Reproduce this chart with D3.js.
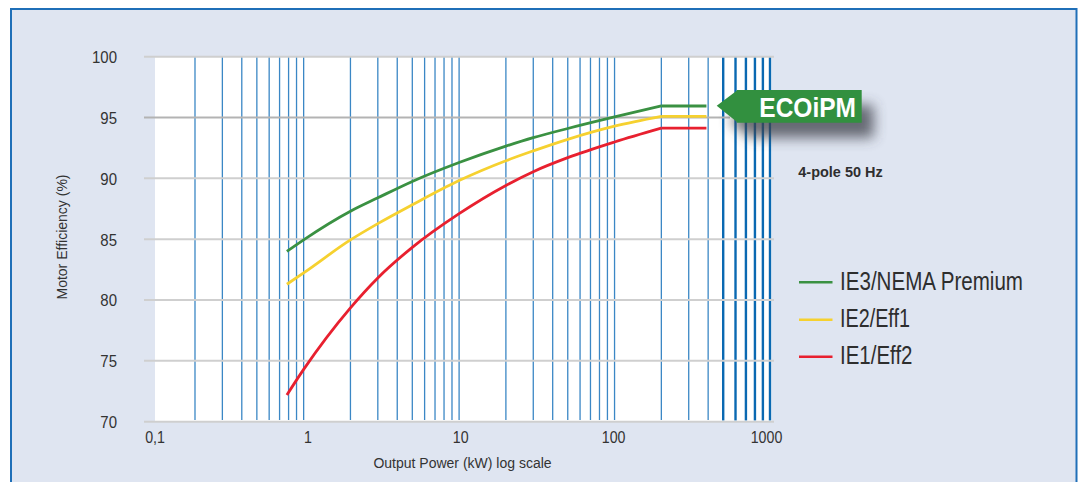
<!DOCTYPE html>
<html>
<head>
<meta charset="utf-8">
<script src="https://cdn.jsdelivr.net/npm/d3@7"></script>
<style>
  html, body { margin: 0; padding: 0; background: #ffffff; }
  svg { display: block; }
  text { font-family: "Liberation Sans", Arial, sans-serif; }
</style>
</head>
<body>
<div id="chart"></div>
<script>
// ---------------- data ----------------
const powerKW   = [0.78, 1,     2,     3,     5,     10,    20,    30,    50,    100,   200,   390];
const ie3Values = [84.0, 84.95, 87.3,  88.4,  89.75, 91.3,  92.65, 93.35, 94.1,  95.05, 95.95, 95.95];
const ie2Values = [81.3, 82.23, 84.94, 86.28, 87.83, 89.82, 91.45, 92.26, 93.21, 94.29, 95.1,  95.1];
const ie1Values = [72.2, 74.3,  79.36, 81.82, 84.33, 87.1,  89.42, 90.55, 91.7,  92.99, 94.13, 94.13];

const seriesNames = ["IE3/NEMA Premium", "IE2/Eff1", "IE1/Eff2"];
const seriesColors = ["#3a9142", "#f6d12f", "#e8202f"];

const xTickValues = [0.1, 1, 10, 100, 1000];
const xTickLabels = ["0,1", "1", "10", "100", "1000"];
const yTickValues = [70, 75, 80, 85, 90, 95, 100];
const minorGridValues = [0.2,0.3,0.4,0.5,0.6,0.7,0.8,0.9,
                         1,2,3,4,5,6,7,8,9,
                         10,20,30,40,50,60,70,80,90,
                         100,200,300,400];
const majorGridValues = [500,600,700,800,900,1000];

const yTitle = "Motor Efficiency (%)";
const xTitle = "Output Power (kW) log scale";
const badgeText = "ECOiPM";
const noteText = "4-pole 50 Hz";

// ---------------- layout ----------------
const W = 1081, H = 482;
const svg = d3.select("#chart").append("svg").attr("width", W).attr("height", H);

const x = d3.scaleLog().domain([0.1, 1000]).range([148.2, 770]);
const xLabelPos = d3.scaleLog().domain([0.1, 1000]).range([154.5, 766]);
const y = d3.scaleLinear().domain([70, 100]).range([421.7, 56.7]);

// frame
svg.append("rect").attr("x", 11).attr("y", 9).attr("width", 1065.5).attr("height", 500)
  .attr("fill", "#dfe5f1").attr("stroke", "#1f6fb8").attr("stroke-width", 2);

// white plot area
svg.append("rect").attr("x", 155).attr("y", y(100)).attr("width", 771.7 - 155).attr("height", y(70) - y(100))
  .attr("fill", "#ffffff");

// vertical grid lines
svg.append("g").selectAll("line").data(minorGridValues).join("line")
  .attr("x1", d => x(d)).attr("x2", d => x(d))
  .attr("y1", y(100)).attr("y2", 420)
  .attr("stroke", "#3b87c5").attr("stroke-width", 1.3);
svg.append("g").selectAll("line").data(majorGridValues).join("line")
  .attr("x1", d => x(d)).attr("x2", d => x(d))
  .attr("y1", y(100)).attr("y2", 420.5)
  .attr("stroke", "#0a69b2").attr("stroke-width", 2.4);

// horizontal grid lines
svg.append("g").selectAll("line").data(yTickValues).join("line")
  .attr("x1", 144).attr("x2", d => d === 95 ? 730 : 774)
  .attr("y1", d => y(d)).attr("y2", d => y(d))
  .attr("stroke", d => d === 95 ? "#b3b3b3" : "#cfcfcf").attr("stroke-width", 2);

// y axis labels
const yAxis = d3.axisLeft(y).tickValues(yTickValues).tickSize(0).tickPadding(0).tickFormat(d3.format("d"));
const yG = svg.append("g").attr("transform", "translate(117,0)").call(yAxis);
yG.select(".domain").remove();
yG.selectAll("text").attr("font-size", 17).attr("fill", "#333").attr("dy", "0.35em")
  .attr("font-family", '"Liberation Sans", Arial, sans-serif')
  .each(function() { const n = this.getComputedTextLength(); d3.select(this).attr("textLength", n * 0.88).attr("lengthAdjust", "spacingAndGlyphs"); });

// x axis labels
const xAxis = d3.axisBottom(xLabelPos).tickValues(xTickValues).tickSize(0).tickPadding(0)
  .tickFormat((d, i) => xTickLabels[i]);
const xG = svg.append("g").attr("transform", "translate(0,443.3)").call(xAxis);
xG.select(".domain").remove();
xG.selectAll("text").attr("font-size", 16.5).attr("fill", "#333").attr("dy", 0).attr("y", 0)
  .attr("font-family", '"Liberation Sans", Arial, sans-serif')
  .each(function() { const n = this.getComputedTextLength(); d3.select(this).attr("textLength", n * 0.86).attr("lengthAdjust", "spacingAndGlyphs"); });

// axis titles
svg.append("text").attr("transform", "translate(66.5,237) rotate(-90)")
  .attr("text-anchor", "middle").attr("font-size", 14).attr("fill", "#333").text(yTitle);
svg.append("text").attr("x", 462.5).attr("y", 467.5)
  .attr("text-anchor", "middle").attr("font-size", 14).attr("fill", "#333").text(xTitle);

// curves: smooth rise up to the last rated point, then flat plateau
const seriesValues = [ie3Values, ie2Values, ie1Values];
const riseLine = d3.line().x(d => x(d[0])).y(d => y(d[1])).curve(d3.curveMonotoneX);
const flatLine = d3.line().x(d => x(d[0])).y(d => y(d[1]));
[2, 1, 0].forEach(i => {
  const pts = powerKW.map((p, j) => [p, seriesValues[i][j]]);
  const n = pts.length;
  svg.append("path").datum(pts.slice(0, n - 1)).attr("d", riseLine)
    .attr("fill", "none").attr("stroke", seriesColors[i]).attr("stroke-width", 2.8).attr("stroke-linejoin", "round");
  svg.append("path").datum(pts.slice(n - 2)).attr("d", flatLine)
    .attr("fill", "none").attr("stroke", seriesColors[i]).attr("stroke-width", 2.8);
});

// legend
const legendY = [282.3, 319.7, 356.7];
const legendW = [183, 70, 72.5];
seriesNames.forEach((name, i) => {
  svg.append("line").attr("x1", 799).attr("x2", 832.5).attr("y1", legendY[i]).attr("y2", legendY[i])
    .attr("stroke", seriesColors[i]).attr("stroke-width", 2.6);
  svg.append("text").attr("x", 840).attr("y", legendY[i] + 7.2).attr("font-size", 25.5).attr("fill", "#2e2e2e")
    .attr("textLength", legendW[i]).attr("lengthAdjust", "spacingAndGlyphs").text(name);
});

// note
svg.append("text").attr("x", 798.3).attr("y", 177.3).attr("font-size", 15.5).attr("font-weight", "bold")
  .attr("fill", "#2e2e2e").attr("textLength", 84.4).attr("lengthAdjust", "spacingAndGlyphs").text(noteText);

// badge with shadow
const defs = svg.append("defs");
defs.append("filter").attr("id", "blur").attr("x", "-50%").attr("y", "-50%").attr("width", "200%").attr("height", "200%")
  .append("feGaussianBlur").attr("stdDeviation", 6.5);
const badgePath = "M716.7,105.7 L736.7,90.7 L736.7,90 L861.7,90 L861.7,122.7 L736.7,122.7 L736.7,121.7 Z";
svg.append("path").attr("d", badgePath).attr("transform", "translate(12,15)")
  .attr("fill", "#3c3f48").attr("opacity", 0.75).attr("filter", "url(#blur)");
svg.append("path").attr("d", badgePath).attr("fill", "#32903f");
svg.append("text").attr("x", 759.3).attr("y", 116.7).attr("font-size", 28.5).attr("font-weight", "bold")
  .attr("fill", "#ffffff").attr("textLength", 96.7).attr("lengthAdjust", "spacingAndGlyphs").text(badgeText);
</script>
</body>
</html>
